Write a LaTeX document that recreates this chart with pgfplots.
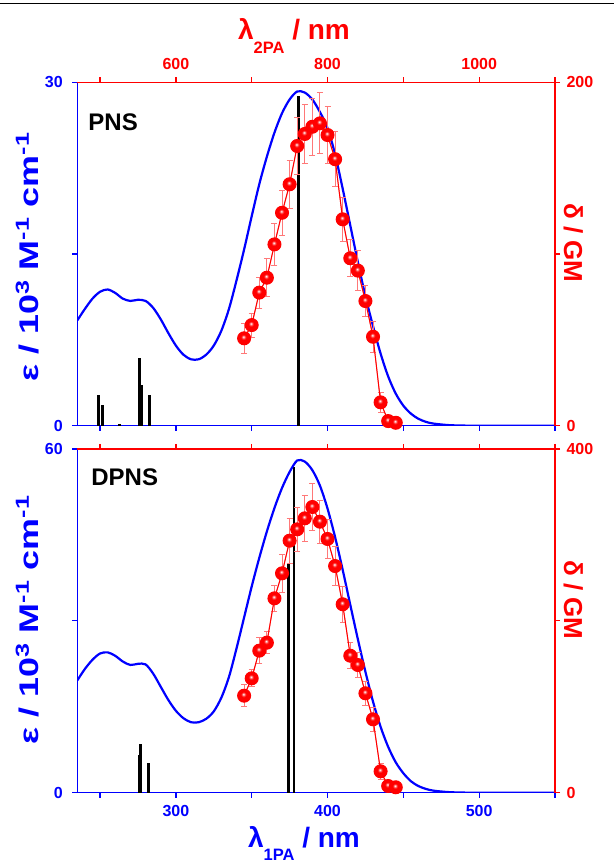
\documentclass[border=0pt]{standalone}
\usepackage{fontspec}
\setmainfont{Liberation Sans}
\usepackage{pgfplots}
\pgfplotsset{compat=1.18}

\definecolor{ob}{RGB}{0,0,255}
\definecolor{orr}{RGB}{255,0,0}
\definecolor{errred}{RGB}{255,120,120}

% brighter sphere for the 2PA points
\makeatletter
\pgfdeclareradialshading[tikz@ball]{ball}{\pgfqpoint{-3bp}{6bp}}{%
  color(0bp)=(tikz@ball!0!white); color(3bp)=(tikz@ball!35!white);
  color(9bp)=(tikz@ball); color(24bp)=(tikz@ball);
  color(30bp)=(tikz@ball!75!black); color(50bp)=(tikz@ball!60!black)}
\makeatother

\newcommand\fs[1]{\fontsize{#1}{#1}\selectfont\bfseries}
\newcommand\sub[1]{\raisebox{-13.5pt}{\fs{16.5}#1}}

\pgfplotsset{
  base/.style={
    scale only axis, width=477.7pt, height=343.4pt, anchor=south west,
    tick align=outside, major tick length=5pt,
    /pgf/number format/assume math mode=true,
    tick label style={font=\fs{16}},
  },
  blueax/.style={
    axis x line*=bottom, axis y line*=left,
    axis line style={-, ob, line width=1.3pt},
    tick style={ob, line width=1.3pt},
    tick label style={ob},
    yticklabel style={xshift=-6pt},
    xticklabel style={yshift=-4pt},
  },
  redax/.style={
    axis x line*=top, axis y line*=right,
    axis line style={-, orr, line width=1.3pt},
    tick style={orr, line width=1.3pt},
    tick label style={orr},
    yticklabel style={xshift=3pt},
    xticklabel style={yshift=4pt},
    clip=false,
  },
  errs/.style={errred, line width=0.9pt,
    error bars/.cd, y dir=both, y explicit,
    error bar style={errred, line width=0.9pt},
    error mark options={errred, rotate=90, mark size=3pt, line width=0.9pt}},
  balls/.style={orr, line width=1pt, mark=ball, mark size=6.5pt,
    mark options={ball color=red, draw=none}},
}

\begin{document}
\begin{tikzpicture}
\path[use as bounding box] (0pt,0pt) rectangle (614pt,861pt);
\draw[line width=1.3pt] (0pt,857.5pt) -- (614pt,857.5pt);

% ---------- PNS ----------
\begin{axis}[base, blueax, at={(77.3pt,435.3pt)},
  xmin=235, xmax=550, ymin=0, ymax=30,
  xtick={250,300,...,550}, xticklabels={,,,,,,},
  ytick={0,15,30}, yticklabels={0,,30}]
\addplot[ycomb, black, line width=2.8pt] coordinates {
  (249,2.68)(251.6,1.81)(263,0.12)(275.9,5.94)(277.2,3.56)(282.7,2.68)(380.9,28.8)};
\addplot[ob, line width=2.2pt, smooth] coordinates {
  (235,9.2)(240,10.2)(245,11.1)(250,11.7)(255,11.9)(260,11.6)(265,11.1)(270,10.9)
  (275,11.0)(280,10.9)(285,10.3)(290,9.3)(295,8.1)(300,7.0)(305,6.2)(310,5.8)
  (315,5.8)(320,6.2)(325,7.0)(330,8.3)(335,10.2)(340,12.7)(345,15.4)(350,18.3)
  (355,21.1)(360,23.5)(365,25.6)(370,27.3)(375,28.5)(380,29.2)(385,29.1)(390,28.5)
  (395,27.4)(400,26.0)(405,23.7)(410,20.7)(415,17.5)(420,14.3)(425,11.3)(430,8.7)
  (435,6.3)(440,4.3)(445,2.8)(450,1.75)(455,1.05)(460,0.6)(465,0.33)(470,0.18)
  (480,0.05)(490,0.01)(500,0)(550,0)};
\node[anchor=base west, font=\fs{24}, black] at (rel axis cs:0.016,0.861) {PNS};
\end{axis}

\begin{axis}[base, redax, at={(77.3pt,435.3pt)},
  xmin=470, xmax=1100, ymin=0, ymax=200,
  xtick={500,600,...,1100}, xticklabels={,600,,800,,1000,},
  ytick={0,100,200}, yticklabels={0,,200}]
\addplot[errs] coordinates {
  (690,50.9) +- (0,8.7) (700,58.6) +- (0,7) (710,77.5) +- (0,9) (720,86.2) +- (0,11)
  (730,105.6) +- (0,12) (740,124) +- (0,13) (750,140.6) +- (0,14) (760,162.9) +- (0,16.5)
  (770,169.9) +- (0,17) (780,174.1) +- (0,16.5) (790,176.1) +- (0,17.7) (800,169.3) +- (0,16.5)
  (810,155.2) +- (0,16) (820,120.2) +- (0,13) (830,97.5) +- (0,10.7) (840,90.3) +- (0,11.6)
  (850,72.6) +- (0,9.2) (860,51.8) +- (0,9.2) (870,13.6) +- (0,5.8) (880,2.7) +- (0,3)
  (890,1.7) +- (0,3)};
\addplot[balls] coordinates {
  (690,50.9)(700,58.6)(710,77.5)(720,86.2)(730,105.6)(740,124)(750,140.6)(760,162.9)
  (770,169.9)(780,174.1)(790,176.1)(800,169.3)(810,155.2)(820,120.2)(830,97.5)(840,90.3)
  (850,72.6)(860,51.8)(870,13.6)(880,2.7)(890,1.7)};
\end{axis}

% ---------- DPNS ----------
\begin{axis}[base, blueax, at={(77.3pt,68.3pt)}, height=343.7pt,
  xmin=235, xmax=550, ymin=0, ymax=60,
  xtick={250,300,...,550}, xticklabels={,300,,400,,500,},
  ytick={0,30,60}, yticklabels={0,,60}]
\addplot[ycomb, black, line width=2.8pt] coordinates {
  (276.6,8.5)(275.7,6.6)(282,5.2)(374.5,39.9)(377.9,56.9)};
\addplot[ob, line width=2.2pt, smooth] coordinates {
  (235,19.6)(240,21.6)(245,23.2)(250,24.3)(255,24.5)(260,23.9)(265,22.9)(270,22.3)
  (275,22.5)(280,22.4)(285,20.8)(290,18.5)(295,16.2)(300,14.3)(305,13.0)(310,12.3)
  (315,12.3)(320,12.9)(325,14.2)(330,16.6)(335,20.2)(340,25.2)(345,30.6)(350,36.0)
  (355,41.0)(360,45.6)(365,49.7)(370,53.2)(375,56.0)(380,58.0)(385,57.8)(390,56.3)
  (395,53.6)(400,49.6)(405,44.6)(410,38.9)(415,32.8)(420,26.8)(425,21.1)(430,15.9)
  (435,11.5)(440,8.0)(445,5.3)(450,3.4)(455,2.0)(460,1.15)(465,0.65)(470,0.35)
  (480,0.1)(490,0.02)(500,0)(550,0)};
\node[anchor=base west, font=\fs{24}, black] at (rel axis cs:0.022,0.895) {DPNS};
\end{axis}

\begin{axis}[base, redax, at={(77.3pt,68.3pt)}, height=343.7pt,
  xmin=470, xmax=1100, ymin=0, ymax=400,
  xtick={500,600,...,1100}, xticklabels={,,,,,,},
  ytick={0,200,400}, yticklabels={0,,400}]
\addplot[errs] coordinates {
  (690,112.9) +- (0,12.6) (700,133.1) +- (0,10) (710,165.3) +- (0,15) (720,174.6) +- (0,13)
  (730,226.2) +- (0,15) (740,255.3) +- (0,22) (750,293.3) +- (0,26) (760,306.5) +- (0,26)
  (770,319.3) +- (0,27) (780,332.5) +- (0,27) (790,315.4) +- (0,25) (800,295.3) +- (0,23)
  (810,263.8) +- (0,23) (820,219.3) +- (0,21) (830,159.4) +- (0,15) (840,148.6) +- (0,15)
  (850,115.7) +- (0,14) (860,85.4) +- (0,14) (870,24.9) +- (0,9) (880,7.8) +- (0,4)
  (890,6.3) +- (0,4)};
\addplot[balls] coordinates {
  (690,112.9)(700,133.1)(710,165.3)(720,174.6)(730,226.2)(740,255.3)(750,293.3)(760,306.5)
  (770,319.3)(780,332.5)(790,315.4)(800,295.3)(810,263.8)(820,219.3)(830,159.4)(840,148.6)
  (850,115.7)(860,85.4)(870,24.9)(880,7.8)(890,6.3)};
\end{axis}

% ---------- axis titles ----------
\node[anchor=base, orr, font=\fs{28}] at (294pt,821pt) {λ\sub{2PA} / nm};
\node[anchor=base, ob, font=\fs{28}] at (304pt,13.7pt) {λ\sub{1PA} / nm};
\node[anchor=base, rotate=90, ob, font=\fs{27}] at (38pt,604pt)
  {\scalebox{1.33}[1]{ε / 10\textsuperscript{3} M\textsuperscript{-1} cm\textsuperscript{-1}}};
\node[anchor=base, rotate=90, ob, font=\fs{27}] at (38pt,241pt)
  {\scalebox{1.33}[1]{ε / 10\textsuperscript{3} M\textsuperscript{-1} cm\textsuperscript{-1}}};
\node[anchor=base, rotate=-90, orr, font=\fs{26}] at (564pt,618pt) {δ / GM};
\node[anchor=base, rotate=-90, orr, font=\fs{26}] at (564pt,261pt) {δ / GM};
\end{tikzpicture}
\end{document}
